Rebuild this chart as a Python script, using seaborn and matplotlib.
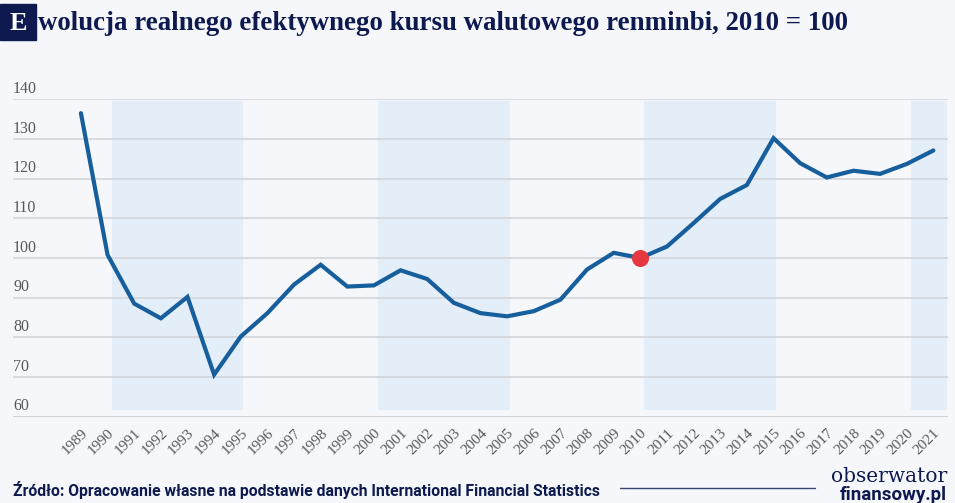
import matplotlib
matplotlib.use("Agg")
import matplotlib.pyplot as plt
import matplotlib.patches as mpatches
import seaborn as sns
import pandas as pd

years = list(range(1989, 2022))
reer = [136.5, 100.8, 88.5, 84.8, 90.2, 70.6, 80.2, 86.1, 93.3, 98.3,
        92.8, 93.1, 96.9, 94.7, 88.7, 86.1, 85.3, 86.6, 89.5, 97.1,
        101.3, 100.0, 102.9, 108.8, 114.9, 118.4, 130.2, 123.9, 120.3, 122.0,
        121.2, 123.7, 127.1]
band_starts = [1990, 2000, 2010, 2020]
band_ends = [1995, 2005, 2015, 2021]
highlight_year = 2010
highlight_value = 100.0
yticks = [60, 70, 80, 90, 100, 110, 120, 130, 140]

title_rest = "wolucja realnego efektywnego kursu walutowego renminbi, 2010 = 100"
source = "Źródło: Opracowanie własne na podstawie danych International Financial Statistics"

df = pd.DataFrame({"rok": years, "kurs": reer})

BG = "#f5f7fa"
NAVY = "#0e1a4f"
LINE = "#175e9c"
BAND = "#e3eef8"
GRID = "#cfd3d8"

sns.set_theme(style="white")
plt.rcParams["font.family"] = ["Liberation Serif", "DejaVu Serif"]

W, H = 955, 503
fig = plt.figure(figsize=(W / 100, H / 100), dpi=100, facecolor=BG)
ax = fig.add_axes([13 / W, 1 - 416.7 / H, (948 - 13) / W, (416.7 - 99.3) / H])
ax.set_facecolor(BG)

ax.set_xlim(1986.45, 2021.55)
ax.set_ylim(60, 140)

for s, e in zip(band_starts, band_ends):
    x0 = s + 0.15
    x1 = e + 0.1 if e < years[-1] else 2021.52
    ax.axvspan(x0, x1, ymin=(61.8 - 60) / 80, ymax=(139.6 - 60) / 80,
               color=BAND, lw=0, zorder=0)

for yv in yticks:
    ax.axhline(yv, color=GRID if yv != 60 else "#c3c7cd", lw=1.1, zorder=1)

sns.lineplot(data=df, x="rok", y="kurs", ax=ax, color=LINE, lw=3.0, zorder=3,
             solid_joinstyle="miter")
ax.scatter([highlight_year], [highlight_value], s=150, color="#e5383f", zorder=4, lw=0)

for sp in ax.spines.values():
    sp.set_visible(False)
ax.set_xlabel("")
ax.set_ylabel("")
ax.set_yticks([])
ax.set_xticks(years)
ax.set_xticklabels([str(y) for y in years], rotation=45, ha="right", va="top",
                   rotation_mode="anchor", fontsize=11, color="#555a60")
ax.tick_params(axis="x", length=0, pad=7)
for lbl in ax.get_xticklabels():
    lbl.set_fontfamily(["Liberation Serif", "DejaVu Serif"])

for yv in yticks:
    ax.text(0.0, yv + 0.6, str(yv), transform=ax.get_yaxis_transform(),
            ha="left", va="bottom", fontsize=11.5, color="#555a60")

# title
fig.patches.append(mpatches.Rectangle((0, 1 - 40 / H), 36 / W, 36 / H,
                                      transform=fig.transFigure, color=NAVY, zorder=5))
fig.text(18 / W, 1 - 23 / H, "E", ha="center", va="center", color="white",
         fontsize=19, fontweight="bold", zorder=6)
title = fig.text(38 / W, 1 - 23 / H, title_rest, ha="left", va="center",
                 color=NAVY, fontsize=19, fontweight="bold")

src = fig.text(13 / W, 1 - 490 / H, source, ha="left", va="center", color=NAVY,
               fontsize=11, fontweight="bold", family=["Roboto", "DejaVu Sans"])

fig.lines.append(plt.Line2D([620 / W, 815 / W], [1 - 488 / H, 1 - 488 / H],
                            transform=fig.transFigure, color="#3a4570", lw=1.0))
fig.text(947 / W, 1 - 477 / H, "obserwator", ha="right", va="center", color=NAVY,
         fontsize=14.5, family=["DejaVu Serif"])
fig.text(947 / W, 1 - 495 / H, "finansowy.pl", ha="right", va="center", color=NAVY,
         fontsize=13.5, fontweight="bold", family=["Roboto", "DejaVu Sans"])

# fit widths
fig.canvas.draw()
r = fig.canvas.get_renderer()
for t, target in [(title, 810), (src, 590)]:
    w = t.get_window_extent(r).width
    t.set_fontsize(t.get_fontsize() * target / w)

fig.savefig("out.png", dpi=100, facecolor=BG)
